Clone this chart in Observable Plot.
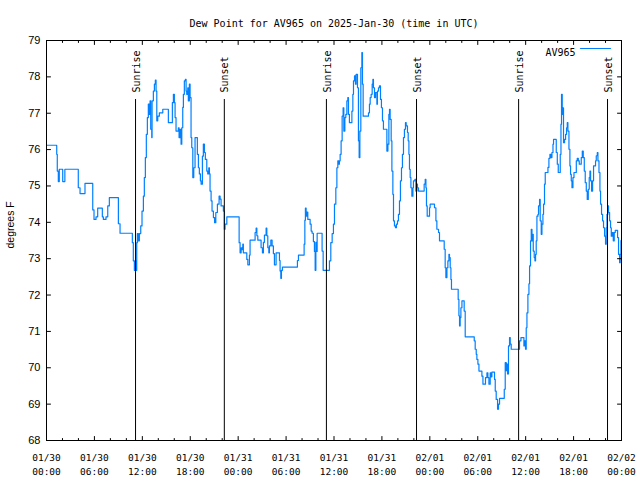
<!DOCTYPE html>
<html><head><meta charset="utf-8">
<script src="https://cdn.jsdelivr.net/npm/d3@7"></script>
<script src="https://cdn.jsdelivr.net/npm/@observablehq/plot@0.6"></script>
<style>body{margin:0;background:#fff}</style>
</head><body><div id="chart"></div>
<script>
const title = "Dew Point for AV965 on 2025-Jan-30 (time in UTC)";
const station = "AV965";
const yLabel = "degrees F";
const startTime = "2025-01-30T00:00:00Z";
const endTime = "2025-02-02T00:00:00Z";
const yTicks = [68, 69, 70, 71, 72, 73, 74, 75, 76, 77, 78, 79];
const eventLabels = ["Sunrise", "Sunset", "Sunrise", "Sunset", "Sunrise", "Sunset"];
const eventTimes = ["2025-01-30T11:09Z", "2025-01-30T22:16Z", "2025-01-31T11:03Z", "2025-01-31T22:20Z", "2025-02-01T11:07Z", "2025-02-01T22:15Z"];

// hours since 2025-01-30 00:00 UTC
const hours = [0,1.28,1.35,1.48,1.60,2.03,2.30,3.98,4.20,4.82,5.79,5.95,6.20,6.41,6.99,7.12,7.45,7.67,7.87,9.00,9.21,10.75,10.87,11.00,11.09,11.17,11.30,11.38,11.50,11.63,11.80,11.96,12.13,12.25,12.38,12.50,12.63,12.75,12.88,12.97,13.05,13.18,13.22,13.38,13.51,13.63,13.72,13.81,13.93,14.13,14.56,15.26,15.76,15.89,16.01,16.10,16.22,16.51,16.60,16.72,16.85,16.94,17.06,17.14,17.26,17.39,17.48,17.56,17.69,17.76,17.89,17.98,18.10,18.19,18.32,18.44,18.60,18.89,19.02,19.14,19.27,19.36,19.52,19.64,19.77,19.89,20.07,20.19,20.32,20.40,20.48,20.61,20.73,20.90,21.05,21.20,21.40,21.61,21.74,21.86,22.15,22.27,22.36,22.58,24.12,24.24,24.37,24.49,24.58,24.65,25.08,25.21,25.41,25.49,26.12,26.25,26.34,26.46,26.87,27.04,27.16,27.29,27.50,27.59,27.71,27.84,27.91,28.09,28.25,28.41,28.54,28.75,29.17,29.25,29.34,29.42,29.54,31.42,31.55,32.26,32.35,32.42,32.51,32.60,32.72,33.01,33.14,33.26,33.42,33.55,33.64,33.73,33.80,33.89,34.51,34.64,35.43,35.60,35.77,35.93,36.06,36.23,36.36,36.48,36.61,36.68,36.77,36.89,37.02,37.14,37.23,37.36,37.48,37.61,37.73,37.81,37.93,38.24,38.36,38.44,38.57,38.69,38.77,38.94,39.06,39.15,39.24,39.36,39.49,39.56,39.65,40.32,40.44,40.53,40.65,40.78,40.87,40.94,41.07,41.19,41.37,41.44,41.57,41.69,41.82,41.94,42.07,42.19,42.62,42.75,42.87,42.95,43.03,43.16,43.25,43.37,43.45,43.57,43.70,43.82,43.95,44.07,44.20,44.32,44.45,44.57,44.70,44.82,44.95,45.04,45.20,45.29,45.38,45.45,45.54,45.63,45.75,45.88,45.95,46.13,46.25,46.38,46.45,46.58,47.29,47.42,47.51,47.58,47.67,47.96,48.04,48.58,48.76,48.88,49.09,49.21,49.80,49.92,50.01,50.14,50.26,50.39,50.46,50.55,50.64,50.71,51.55,51.64,51.72,51.80,51.89,52.02,52.30,52.43,53.56,53.68,53.81,53.89,54.02,54.15,54.52,54.65,54.97,55.15,55.27,55.40,55.56,55.65,55.77,56.10,56.19,56.31,56.48,56.60,56.73,57.32,57.44,57.57,57.65,57.73,57.85,57.98,58.07,58.19,59.23,59.41,59.78,59.86,59.98,60.07,60.16,60.28,60.41,60.49,60.61,60.70,60.79,60.86,60.95,61.07,61.16,61.24,61.32,61.41,61.54,61.61,61.74,61.82,61.95,62.04,62.16,62.24,62.36,62.45,62.79,62.91,63.04,63.17,63.29,63.42,63.49,63.83,63.96,64.08,64.33,64.42,64.49,64.58,64.67,64.74,64.87,65.00,65.12,65.21,65.29,65.42,65.54,65.62,65.71,65.80,65.92,66.05,66.34,66.46,66.59,66.71,66.96,67.09,67.21,67.34,67.46,67.59,67.71,67.84,67.96,68.05,68.13,68.25,68.38,68.50,68.75,68.84,68.97,69.05,69.18,69.30,69.38,69.50,69.63,69.75,69.88,70.00,70.09,70.18,70.30,70.38,70.51,70.63,70.72,70.84,70.97,71.09,71.22,71.51,71.63,71.76,71.84,71.93];

const dewF = [76.12,75.87,75.41,75.12,75.46,75.12,75.46,74.95,74.79,75.07,74.34,74.08,74.15,74.39,74.15,74.08,74.15,74.45,74.68,73.96,73.70,73.44,72.94,72.68,72.94,72.68,73.44,73.69,73.49,73.69,73.90,74.31,74.72,75.23,75.78,76.42,76.88,77.25,76.97,77.34,76.56,76.33,77.34,77.61,77.80,77.91,77.61,76.79,76.92,77.01,77.11,76.74,77.29,77.52,77.29,76.88,76.51,76.60,76.33,76.56,76.15,76.60,77.16,77.52,77.89,77.93,77.61,77.52,77.70,77.34,77.80,77.43,76.33,76.05,75.23,75.50,76.33,75.87,75.50,75.33,75.14,75.05,75.82,76.15,75.92,75.73,75.41,75.33,75.50,75.33,74.86,74.59,74.31,74.13,73.99,74.27,74.50,74.72,74.64,74.45,74.31,73.81,73.95,74.15,73.44,73.16,73.30,73.25,73.40,73.16,72.98,72.83,73.10,73.51,73.72,73.84,73.63,73.51,73.30,73.16,73.45,73.65,73.84,73.63,73.30,73.16,73.35,73.51,73.35,73.14,72.83,73.16,72.95,72.66,72.46,72.68,72.77,72.95,73.10,73.40,74.06,74.39,74.17,74.28,74.08,73.95,73.76,73.70,73.47,73.20,72.68,73.45,73.20,73.70,73.21,72.68,72.94,73.44,73.69,73.95,74.50,74.95,75.50,75.69,75.60,75.69,75.87,76.24,76.92,77.15,76.51,76.88,76.97,77.34,77.43,76.97,76.74,77.06,77.52,77.89,78.03,77.80,78.07,77.70,76.24,75.78,76.51,78.25,78.67,77.80,76.92,77.01,77.25,77.43,77.52,77.80,77.93,77.70,77.43,77.57,77.25,77.61,77.70,77.75,77.38,77.15,76.79,76.56,75.96,76.15,76.97,77.11,76.83,76.24,75.41,74.77,74.04,73.90,73.85,73.95,74.04,74.22,74.59,75.14,75.50,75.87,76.33,76.56,76.74,76.65,76.47,76.24,75.87,75.46,75.23,74.95,74.72,74.95,75.14,75.18,74.86,75.05,74.95,74.86,75.05,75.18,74.95,74.45,74.17,74.40,74.50,74.40,74.04,73.81,73.72,73.49,73.26,72.75,72.48,72.75,72.94,73.12,73.03,72.75,72.43,72.16,71.88,71.43,71.15,71.38,71.65,71.84,71.56,70.85,70.74,70.51,70.37,70.23,70.10,69.91,69.77,69.55,69.73,69.86,69.73,69.55,69.86,69.75,69.88,69.68,69.36,69.13,68.86,69.00,69.16,69.41,70.14,69.92,70.10,69.83,70.60,70.83,70.65,70.51,70.74,70.83,70.60,70.74,70.51,71.10,71.51,72.02,72.31,72.80,73.49,73.81,73.49,73.67,73.21,73.03,72.94,73.12,73.49,74.17,74.22,74.45,74.63,74.04,73.67,73.95,74.22,74.50,75.05,75.37,75.51,75.76,75.87,75.78,75.92,76.15,76.28,75.92,75.60,75.37,75.87,76.70,77.52,76.97,77.15,76.19,76.28,76.42,76.60,76.74,76.51,76.01,75.55,75.32,75.14,74.95,75.23,75.37,75.69,75.76,75.69,75.60,75.78,75.96,75.78,75.41,75.09,74.86,74.63,74.91,75.23,75.41,75.14,74.86,75.14,75.55,75.69,75.83,75.92,75.69,75.37,74.86,74.50,74.22,74.04,73.85,73.62,73.40,73.85,74.22,74.45,74.27,74.04,73.85,73.62,73.72,73.49,73.72,73.78,73.58,73.12,72.89,73.12,73.50];

const start = Date.parse(startTime);
const data = hours.map((h, i) => ({time: new Date(start + h * 3600e3), dew: dewF[i]}));
const events = eventTimes.map((t, i) => ({time: new Date(t), label: eventLabels[i]}));
const t0 = new Date(startTime), t1 = new Date(endTime);
const majorTicks = d3.utcHour.every(6).range(t0, new Date(+t1 + 1));
const minorTicks = d3.utcHour.every(2).range(t0, new Date(+t1 + 1)).filter(d => d.getUTCHours() % 6 !== 0);

const blue = "#0080ff";
const mono = "DejaVu Sans Mono";
const sans = "Liberation Sans, Arial, sans-serif";
const lineShape = {draw(ctx, l) { ctx.moveTo(0, 0); ctx.lineTo(0, -l); }};
const tick = (extra) => ({anchor: "start", shape: lineShape, stroke: "black", strokeWidth: 1, ...extra});

const chart = Plot.plot({
  width: 640,
  height: 480,
  marginLeft: 46,
  marginRight: 19,
  marginTop: 40,
  marginBottom: 40,
  style: {background: "white", color: "black", overflow: "visible"},
  x: {type: "utc", domain: [t0, t1]},
  y: {domain: [68, 79]},
  marks: [
    Plot.line(data, {x: "time", y: "dew", curve: "step-after", stroke: blue, strokeWidth: 1.2}),
    Plot.ruleX(events, {x: "time", insetTop: 59, stroke: "black", strokeWidth: 1}),
    Plot.text(events, {x: "time", text: "label", frameAnchor: "top", rotate: -90, textAnchor: "start", dy: 52, dx: -3, fontFamily: mono, fontSize: 10, fill: "black"}),
    Plot.axisX({ticks: majorTicks, tickFormat: d3.utcFormat("%m/%d\n%H:%M"), tickSize: 0, tickPadding: 11, fontFamily: mono, fontSize: 9.5, lineHeight: 1.45, label: null}),
    Plot.axisY({ticks: yTicks, tickSize: 0, tickPadding: 6, fontFamily: sans, fontSize: 11, label: null}),
    Plot.vector(majorTicks, tick({x: d => d, frameAnchor: "bottom", rotate: 0, length: 4})),
    Plot.vector(minorTicks, tick({x: d => d, frameAnchor: "bottom", rotate: 0, length: 2})),
    Plot.vector(majorTicks, tick({x: d => d, frameAnchor: "top", rotate: 180, length: 4})),
    Plot.vector(minorTicks, tick({x: d => d, frameAnchor: "top", rotate: 180, length: 2})),
    Plot.vector(yTicks, tick({y: d => d, frameAnchor: "left", rotate: 90, length: 4})),
    Plot.vector(yTicks, tick({y: d => d, frameAnchor: "right", rotate: -90, length: 4})),
    Plot.text([title], {frameAnchor: "top", dy: -21, fontFamily: mono, fontSize: 10, fill: "black"}),
    Plot.text([station], {frameAnchor: "top-right", dx: -46, dy: 8, textAnchor: "end", fontFamily: mono, fontSize: 10, fill: "black"}),
    Plot.vector([station], {frameAnchor: "top-right", dx: -11, dy: 8, rotate: 90, length: 30, anchor: "end", shape: lineShape, stroke: blue, strokeWidth: 1.2}),
    Plot.text([yLabel], {frameAnchor: "left", rotate: -90, dx: -36, dy: 8, fontFamily: sans, fontSize: 10.5, fill: "black"}),
    Plot.frame({stroke: "black", strokeWidth: 1})
  ]
});
document.getElementById("chart").append(chart);
</script>
</body></html>
